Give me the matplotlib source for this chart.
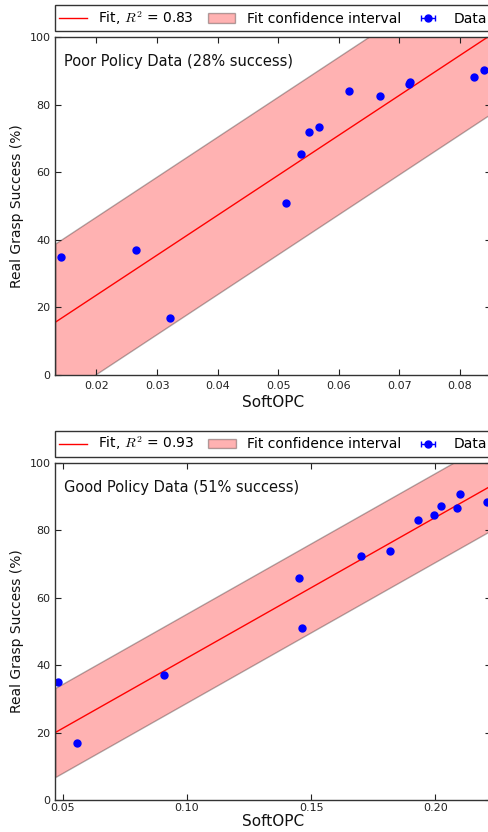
import numpy as np
import matplotlib
matplotlib.use("Agg")
import matplotlib.pyplot as plt

# real grasp success (%)
success = [35, 37, 17, 51, 65.5, 72, 73.5, 84, 82.5, 86.2, 86.7, 88.2, 90.3]

# poor policy data
poor_softopc = [0.0142, 0.0265, 0.0322, 0.0513, 0.0537, 0.0551, 0.0567,
                0.0617, 0.0668, 0.0715, 0.0717, 0.0823, 0.0840]
poor_xerr = [0.0001, 0.0001, 0.0001, 0.0001, 0.0001, 0.0002, 0.0002,
             0.0002, 0.0002, 0.0002, 0.0002, 0.0001, 0.0001]
poor_fit_x = [0.0132, 0.0851]
poor_fit_y = [15.6, 100.6]
poor_band = 23.3
poor_r2 = 0.83

# good policy data
good_softopc = [0.0482, 0.0907, 0.0556, 0.1464, 0.1452, 0.1701, 0.1818,
                0.1994, 0.1930, 0.2086, 0.2024, 0.2206, 0.2099]
good_success = [35, 37, 17, 51, 65.7, 72.2, 73.8, 84.5, 83, 86.5, 87.3, 88.4, 90.7]
good_xerr = [0.0002] * 13
good_fit_x = [0.0470, 0.2224]
good_fit_y = [20.0, 93.1]
good_band = 13.2
good_r2 = 0.93

plt.rcParams['font.family'] = ['DejaVu Sans']
plt.rcParams['mathtext.fontset'] = 'cm'
plt.rcParams['xtick.direction'] = 'in'
plt.rcParams['ytick.direction'] = 'in'
plt.rcParams['xtick.top'] = True
plt.rcParams['ytick.right'] = True
plt.rcParams['xtick.major.size'] = 4
plt.rcParams['ytick.major.size'] = 4

fig = plt.figure(figsize=(4.88, 8.32), dpi=100)
ax1 = fig.add_axes([0.1133, 0.5493, 0.8928, 0.4063])
ax2 = fig.add_axes([0.1133, 0.0385, 0.8928, 0.4054])


def panel(ax, xs, ys, xerr, fit_x, fit_y, band, r2, title, xticks, xpad, lpad):
    fx = np.array(fit_x)
    fy = np.array(fit_y)
    ax.plot(fx, fy, color='red', lw=1, label=r'Fit, $R^2$ = %.2f' % r2)
    ax.fill_between(fx, fy - band, fy + band, facecolor='red', alpha=0.3,
                    edgecolor='black', linewidth=1,
                    label='Fit confidence interval')
    ax.errorbar(xs, ys, xerr=xerr, fmt='o', color='blue', mec='blue',
                ms=5, capsize=2, elinewidth=1, label='Data')
    ax.set_xlim(fit_x[0], fit_x[1])
    ax.set_ylim(0, 100)
    ax.set_xticks(xticks)
    ax.set_yticks([0, 20, 40, 60, 80, 100])
    ax.tick_params(labelsize=8, width=0.8, colors='#222222')
    ax.tick_params(axis='x', pad=xpad)
    for s in ax.spines.values():
        s.set_linewidth(1)
        s.set_color('#333333')
    ax.set_xlabel('SoftOPC', fontsize=11, color='#111111', labelpad=lpad)
    ax.set_ylabel('Real Grasp Success (%)', fontsize=10, color='#111111')
    ax.annotate(title, xy=(0, 1), xycoords='axes fraction',
                xytext=(6, -21), textcoords='offset points',
                fontsize=10.5, va='baseline', color='#111111')
    leg = ax.legend(bbox_to_anchor=(0., 1.018, 1., 0.08), loc='lower left',
                    ncol=3, mode='expand', borderaxespad=0., fontsize=10,
                    numpoints=1, fancybox=False, framealpha=1, borderpad=0.3,
                    handlelength=2.0, handletextpad=0.8)
    leg.get_frame().set_edgecolor('#333333')
    leg.get_frame().set_linewidth(1)


panel(ax1, poor_softopc, success, poor_xerr, poor_fit_x, poor_fit_y,
      poor_band, poor_r2, 'Poor Policy Data (28% success)',
      [0.02, 0.03, 0.04, 0.05, 0.06, 0.07, 0.08], 4, 3)
panel(ax2, good_softopc, good_success, good_xerr, good_fit_x, good_fit_y,
      good_band, good_r2, 'Good Policy Data (51% success)',
      [0.05, 0.10, 0.15, 0.20], 2, 1)

fig.savefig('out.png', dpi=100)
